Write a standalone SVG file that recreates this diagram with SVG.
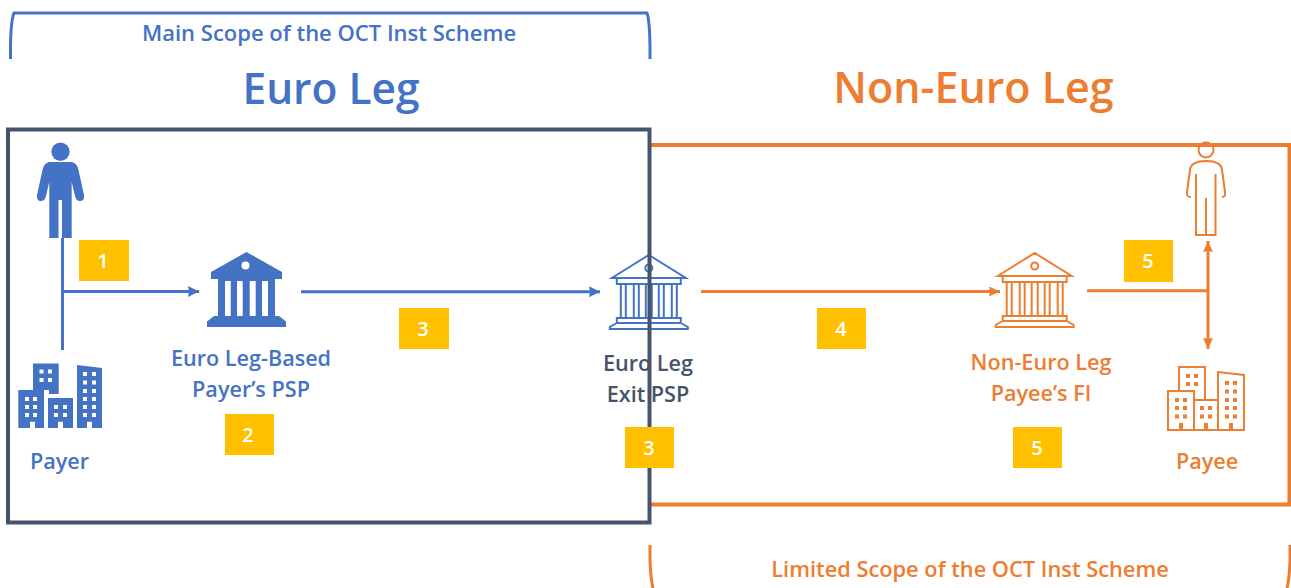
<svg xmlns="http://www.w3.org/2000/svg" width="1291" height="588" viewBox="0 0 1291 588">
<style>
text{font-family:"Open Sans","Noto Sans","Liberation Sans",sans-serif;font-weight:600;text-anchor:middle}
.b{fill:#4472c4}.o{fill:#ed7d31}.d{fill:#44546a}
.t{font-size:42.500px}.l{font-size:21.600px}.s{font-size:21.600px}.h{font-size:22px}
.n{font-size:20px;fill:#fff}.y{fill:#ffc000}
.lb{fill:none;stroke:#4472c4;stroke-width:3}.lo{fill:none;stroke:#ed7d31;stroke-width:3}
</style>
<defs>
<marker id="ab" markerWidth="11" markerHeight="11" refX="11" refY="5.500" orient="auto" markerUnits="userSpaceOnUse"><path d="M0 0L11 5.500L0 11L1 5.500Z" fill="#4472c4"/></marker>
<marker id="ao" markerWidth="11" markerHeight="10" refX="11" refY="5" orient="auto-start-reverse" markerUnits="userSpaceOnUse"><path d="M0 0L11 5L0 10L1 5Z" fill="#ed7d31"/></marker>
<g id="outbank" fill="none" stroke-width="2">
<path d="M-37 -12L0 -35L37 -12Z"/><circle cx="0" cy="-22" r="3.500"/>
<path d="M-32 -12V-6H32V-12"/>
<path d="M-28 -6V28M-23 -6V28M-15 -6V28M-10 -6V28M-3 -6V28M3 -6V28M10 -6V28M15 -6V28M23 -6V28M28 -6V28"/>
<path d="M-32 28H32V33H-32ZM-32 33L-39 37V39H39V37L32 33"/>
</g>
</defs>

<g id="scope-euro">
<path class="lb" d="M10.500 59V45Q11 20 14 13H647Q649.500 20 650 45V59"/>
<text class="b h" x="329" y="41">Main Scope of the OCT Inst Scheme</text>
</g>
<g id="scope-non-euro">
<path class="lo" d="M650 545V560Q650.500 578 653 588M1290 545V560Q1289.500 578 1287 588"/>
<text class="o" x="970" y="577" style="font-size:21.800px">Limited Scope of the OCT Inst Scheme</text>
</g>
<text class="b t" x="331" y="104">Euro Leg</text>
<text class="o" x="973.500" y="103" style="font-size:43px">Non-Euro Leg</text>

<g id="non-euro-frame"><path fill="none" stroke="#ed7d31" stroke-width="4" d="M651 145H1289.500V504.500H651"/></g>

<g id="connectors">
<path class="lb" d="M62.500 238V350M62.500 291.500H199" marker-end="url(#ab)"/>
<path class="lb" d="M301 291.700H600" marker-end="url(#ab)"/>
<path class="lo" d="M701 291.500H1000" marker-end="url(#ao)"/>
<path class="lo" d="M1087 290.700H1208"/>
<path class="lo" d="M1208 241V349" marker-start="url(#ao)" marker-end="url(#ao)"/>
</g>

<g id="payer-person" class="b">
<circle cx="60.500" cy="151.700" r="9.200"/>
<path d="M49 162H72Q77 163 78.500 170L84 195Q84.500 201 80 201Q76 201 75 196L71.700 182V238H62V200H58.500V238H49.300V182L46 196Q45 201 41 201Q36.500 201 37 195L42.500 170Q44 163 49 162Z"/>
</g>
<g id="payer-building" class="b">
<path fill-rule="evenodd" d="M33 363.500H58.700V394H49V390H33ZM18.300 390H44V428H35V421.700H30V428H18.300ZM48 398H73V428H63V421.700H58V428H48ZM77 365L102 368V428H92V421.700H87V428H77Z"/>
<g fill="#fff"><rect x="39.500" y="369.500" width="4" height="4"/><rect x="48" y="369.500" width="4" height="4"/><rect x="39.500" y="378" width="4" height="4"/><rect x="48" y="378" width="4" height="4"/>
<rect x="25" y="397" width="4" height="4"/><rect x="33" y="397" width="4" height="4"/><rect x="25" y="405" width="4" height="4"/><rect x="33" y="405" width="4" height="4"/><rect x="25" y="413" width="4" height="4"/><rect x="33" y="413" width="4" height="4"/>
<rect x="54" y="405" width="4" height="4"/><rect x="63" y="405" width="4" height="4"/><rect x="54" y="413" width="4" height="4"/><rect x="63" y="413" width="4" height="4"/>
<rect x="83" y="372" width="4" height="4"/><rect x="92" y="372" width="4" height="4"/><rect x="83" y="380.500" width="4" height="4"/><rect x="92" y="380.500" width="4" height="4"/><rect x="83" y="389" width="4" height="4"/><rect x="92" y="389" width="4" height="4"/><rect x="83" y="397" width="4" height="4"/><rect x="92" y="397" width="4" height="4"/><rect x="83" y="405" width="4" height="4"/><rect x="92" y="405" width="4" height="4"/><rect x="83" y="413" width="4" height="4"/><rect x="92" y="413" width="4" height="4"/></g>
<text class="b s" x="59.500" y="469">Payer</text>
</g>
<g id="payer-psp" class="b">
<path fill-rule="evenodd" d="M246.500 252L282 272V279H275V316H279L286 321.500V327H207V321.500L214 316H218V279H211V272ZM225 281V316H230.700V281ZM237 281V316H242.700V281ZM249.700 281V316H255.700V281ZM262 281V316H268V281Z"/>
<circle cx="245.500" cy="265.500" r="4" fill="#fff"/>
<text class="l" x="251" y="366">Euro Leg-Based</text>
<text class="l" x="251" y="397">Payer’s PSP</text>
</g>
<g id="exit-psp">
<use href="#outbank" x="648.800" y="290" stroke="#4472c4"/>
<text class="d l" x="648" y="371">Euro Leg</text>
<text class="d l" x="648" y="402">Exit PSP</text>
</g>
<g id="payee-fi">
<use href="#outbank" x="1034.700" y="288" stroke="#ed7d31"/>
<text class="o l" x="1041" y="370">Non-Euro Leg</text>
<text class="o l" x="1041" y="401">Payee’s FI</text>
</g>
<g id="payee-person" class="lo" style="stroke-width:2">
<circle cx="1206" cy="150" r="7.500"/>
<path d="M1191 197Q1186 197 1187 192L1190 170Q1191 161 1206 161Q1221 161 1222 170L1225 192Q1226 197 1222 197"/>
<path d="M1196 174V235H1215.500V174M1206 198V235"/>
</g>
<g id="payee-building">
<path class="lo" style="stroke-width:2" d="M1168 430V391H1194V430ZM1179 391V367H1205V400M1194 400H1218V430H1194ZM1218 430V372L1244 375V430Z"/>
<g class="o"><rect x="1175" y="398" width="4" height="4"/><rect x="1183" y="398" width="4" height="4"/><rect x="1175" y="406" width="4" height="4"/><rect x="1183" y="406" width="4" height="4"/><rect x="1175" y="414.500" width="4" height="4"/><rect x="1183" y="414.500" width="4" height="4"/>
<rect x="1186" y="374" width="4" height="4"/><rect x="1194" y="374" width="4" height="4"/><rect x="1186" y="382" width="4" height="4"/><rect x="1194" y="382" width="4" height="4"/>
<rect x="1200" y="406" width="4" height="4"/><rect x="1208" y="406" width="4" height="4"/><rect x="1200" y="414.500" width="4" height="4"/><rect x="1208" y="414.500" width="4" height="4"/>
<rect x="1225" y="381" width="4" height="4"/><rect x="1233" y="381" width="4" height="4"/><rect x="1225" y="389.500" width="4" height="4"/><rect x="1233" y="389.500" width="4" height="4"/><rect x="1225" y="398" width="4" height="4"/><rect x="1233" y="398" width="4" height="4"/><rect x="1225" y="406" width="4" height="4"/><rect x="1233" y="406" width="4" height="4"/><rect x="1225" y="414.500" width="4" height="4"/><rect x="1233" y="414.500" width="4" height="4"/>
<rect x="1179" y="423" width="4" height="7"/><rect x="1204" y="423" width="4" height="7"/><rect x="1229" y="423" width="4" height="7"/></g>
<text class="o s" x="1207" y="469">Payee</text>
</g>

<g id="eu-frame"><rect x="8" y="129.500" width="641.500" height="393" fill="none" stroke="#44546a" stroke-width="4"/></g>

<g id="badges">
<g id="b1"><rect class="y" x="79" y="240" width="50" height="41"/><text class="n" x="103" y="268">1</text></g>
<g id="b2"><rect class="y" x="225" y="414" width="49" height="41"/><text class="n" x="248" y="442">2</text></g>
<g id="b3a"><rect class="y" x="399" y="308" width="50" height="41"/><text class="n" x="423" y="336">3</text></g>
<g id="b3b"><rect class="y" x="625" y="427" width="49" height="41"/><text class="n" x="649" y="455">3</text></g>
<g id="b4"><rect class="y" x="817" y="308" width="49" height="41"/><text class="n" x="841" y="336">4</text></g>
<g id="b5a"><rect class="y" x="1124" y="240" width="49" height="42"/><text class="n" x="1148" y="268">5</text></g>
<g id="b5b"><rect class="y" x="1013" y="427" width="49" height="41"/><text class="n" x="1037" y="455">5</text></g>
</g>
</svg>
